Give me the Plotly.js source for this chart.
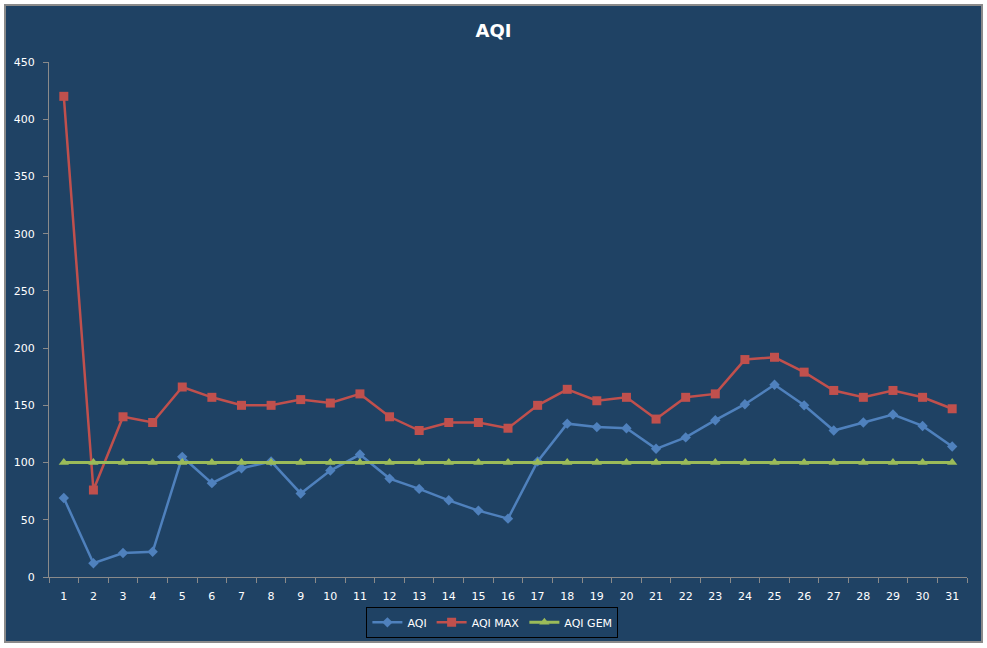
<!DOCTYPE html>
<html>
<head>
<meta charset="utf-8">
<script src="https://cdn.plot.ly/plotly-3.0.1.min.js"></script>
<style>
  body { margin: 0; background: #ffffff; }
  #frame {
    position: absolute; left: 4px; top: 4px;
    width: 975px; height: 635px;
    border: 2px solid #8a8a8a;
  }
  #chart { width: 975px; height: 635px; }
</style>
</head>
<body>
<div id="frame"><div id="chart"></div></div>
<script>
var days = [];
for (var d = 1; d <= 31; ++d) days.push(String(d));

var aqi = [69, 12, 21, 22, 105, 82, 95, 101, 73, 93, 107, 86, 77, 67, 58, 51,
           101, 134, 131, 130, 112, 122, 137, 151, 168, 150, 128, 135, 142, 132, 114];
var aqiMax = [420, 76, 140, 135, 166, 157, 150, 150, 155, 152, 160, 140, 128, 135, 135, 130,
              150, 164, 154, 157, 138, 157, 160, 190, 192, 179, 163, 157, 163, 157, 147];
var aqiGem = days.map(() => 100);

var bg = '#1f4264';
var axisColor = '#8a8a8a';
var txt = {family: 'DejaVu Sans, Verdana, sans-serif', size: 11, color: '#ffffff'};

var data = [
    {
        x: days, y: aqi, name: 'AQI',
        type: 'scatter', mode: 'lines+markers',
        line: {color: '#4f81bd', width: 2.5},
        marker: {symbol: 'diamond', size: 8, color: '#4f81bd'}
    },
    {
        x: days, y: aqiMax, name: 'AQI MAX',
        type: 'scatter', mode: 'lines+markers',
        line: {color: '#c0504d', width: 2.5},
        marker: {symbol: 'square', size: 9, color: '#c0504d'}
    },
    {
        x: days, y: aqiGem, name: 'AQI GEM',
        type: 'scatter', mode: 'lines+markers',
        line: {color: '#9bbb59', width: 3},
        marker: {symbol: 'triangle-up', size: 9, color: '#9bbb59'}
    }
];

var layout = {
    width: 975, height: 635,
    paper_bgcolor: bg, plot_bgcolor: bg,
    margin: {l: 43, r: 14, t: 56, b: 64, autoexpand: false},
    font: txt,
    showlegend: true,
    title: {
        text: '<b>AQI</b>',
        font: {family: 'DejaVu Sans, Verdana, sans-serif', size: 18, color: '#ffffff'},
        x: 0.5, xanchor: 'center', y: 0.961, yanchor: 'middle'
    },
    xaxis: {
        type: 'category',
        range: [-0.5, 30.5],
        tickson: 'boundaries',
        ticks: 'outside', ticklen: 5, tickcolor: axisColor,
        ticklabelstandoff: 9,
        showline: true, linecolor: axisColor, linewidth: 1,
        showgrid: false, zeroline: false,
        tickfont: txt
    },
    yaxis: {
        range: [0, 450], dtick: 50,
        ticks: 'outside', ticklen: 5, tickcolor: axisColor,
        ticklabelstandoff: 6,
        showline: true, linecolor: axisColor, linewidth: 1,
        showgrid: false, zeroline: false,
        tickfont: txt
    },
    legend: {
        orientation: 'h',
        x: 0.483, xanchor: 'center',
        y: -0.058, yanchor: 'top',
        bgcolor: bg, bordercolor: '#000000', borderwidth: 1,
        font: txt,
        itemwidth: 30
    },
    hovermode: false
};

Plotly.newPlot('chart', data, layout, {displayModeBar: false, staticPlot: true});
</script>
</body>
</html>
